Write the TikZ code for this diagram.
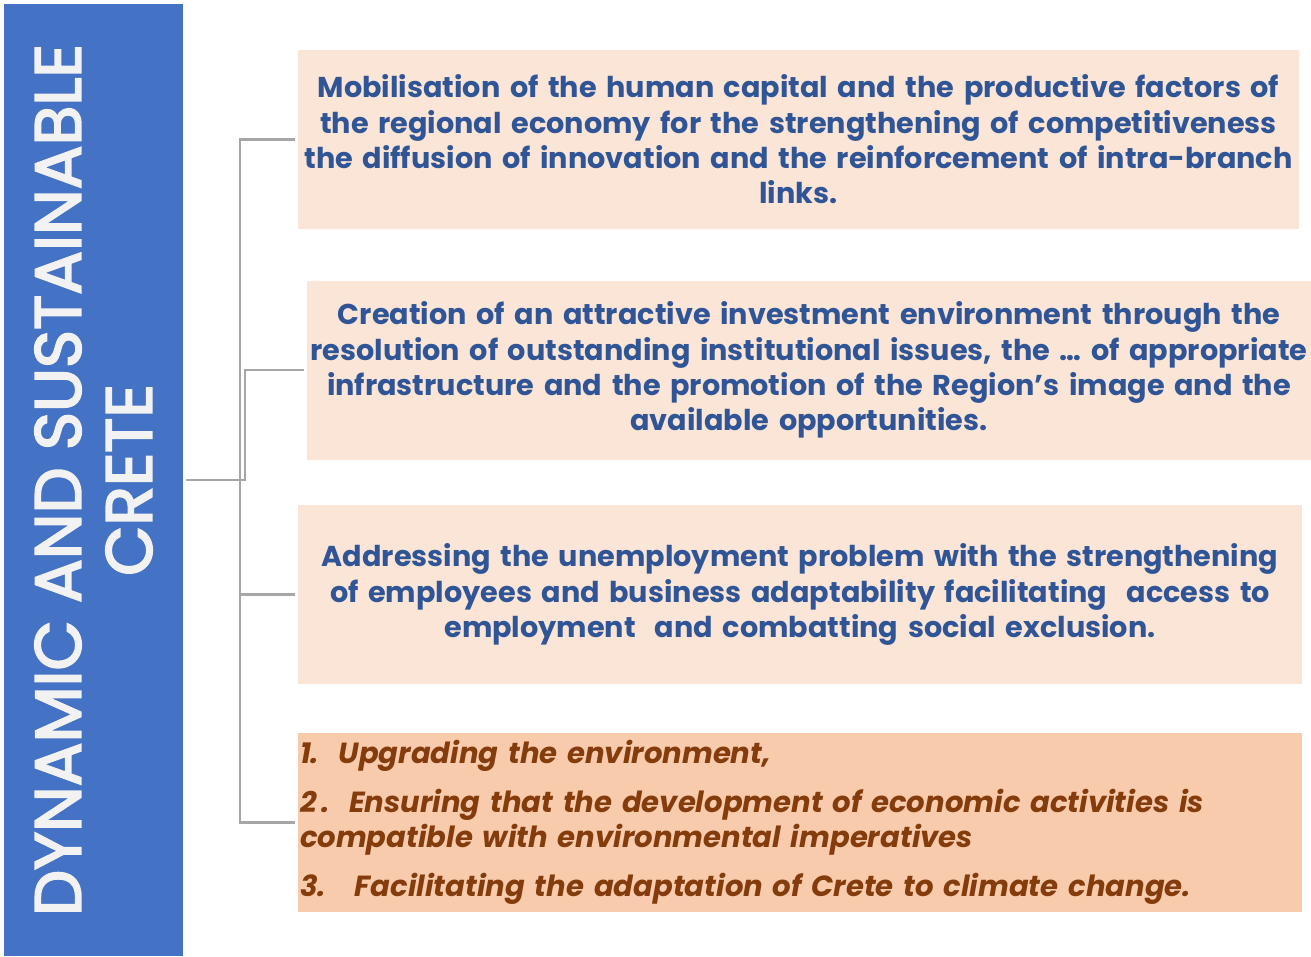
\documentclass[tikz,border=0pt]{standalone}
\usepackage{fontspec}
\setmainfont{Poppins}
\newfontfamily\rootfont[FakeBold=3]{Poppins}
\definecolor{rootblue}{HTML}{4472C4}
\definecolor{rootText}{HTML}{F2F2F2}
\definecolor{txtblue}{HTML}{2F5597}
\definecolor{lightbox}{HTML}{FBE5D6}
\definecolor{darkbox}{HTML}{F8CBAD}
\definecolor{brown}{HTML}{843C0C}
\definecolor{linegray}{HTML}{A6A6A6}
\begin{document}
\begin{tikzpicture}[x=1pt,y=-1pt,
  rootbox/.style={fill=rootblue, draw=none, rotate=90, minimum width=952pt, minimum height=179pt,
    inner sep=0pt, align=center, text=rootText, font=\rootfont\fontsize{65}{71}\selectfont},
  goalbox/.style={fill=lightbox, draw=none, minimum height=179pt, inner xsep=2pt, inner ysep=0pt,
    align=center, text=txtblue, font=\fontsize{28.7}{35.3}\selectfont\bfseries},
  envbox/.style={fill=darkbox, draw=none, minimum height=179pt, inner xsep=2pt, inner ysep=0pt,
    align=left, text=brown, font=\fontsize{29.1}{35.3}\selectfont\bfseries\itshape},
  conn/.style={draw=linegray, line width=2.5pt, shorten <=3pt, shorten >=2.5pt}]
\useasboundingbox (0,0) rectangle (1311,956);
\fill[white] (0,0) rectangle (1311,956);

\node[rootbox] (root) at (93.5,480) {DYNAMIC AND SUSTAINABLE\\CRETE};

\node[goalbox, minimum width=1001pt, text width=997pt] (b1) at (798.5,139.5)
  {Mobilisation of the human capital and the productive factors of\\
   the regional economy for the strengthening of competitiveness\\
   the diffusion of innovation and the reinforcement of intra-branch\\
   links.};
\node[goalbox, minimum width=1004pt, text width=1000pt] (b2) at (809,370)
  {Creation of an attractive investment environment through the\\
   resolution of outstanding institutional issues, the … of appropriate\\
   infrastructure and the promotion of the Region’s image and the\\
   available opportunities.};
\node[goalbox, minimum width=1004pt, text width=1000pt] (b3) at (800,594.5)
  {Addressing the unemployment problem with the strengthening\\
   of employees and business adaptability facilitating \ access to\\
   employment \ and combatting social exclusion.};
\node[envbox, minimum width=1004pt, text width=1000pt] (b4) at (800,822.5)
  {1.\ \ Upgrading the environment,\\[13.5pt]
   2\,.\ \ Ensuring that the development of economic activities is\\
   compatible with environmental imperatives\\[13.5pt]
   3.\ \ \ Facilitating the adaptation of Crete to climate change.};

\coordinate (j) at (240,480);
\coordinate (j2) at (245,480);
\draw[conn] (root.south) -- (j) |- (b1.west);
\draw[conn] (root.south) -- (j2) |- (b2.west);
\draw[conn] (root.south) -- (j) |- (b3.west);
\draw[conn] (root.south) -- (j) |- (b4.west);
\end{tikzpicture}
\end{document}
